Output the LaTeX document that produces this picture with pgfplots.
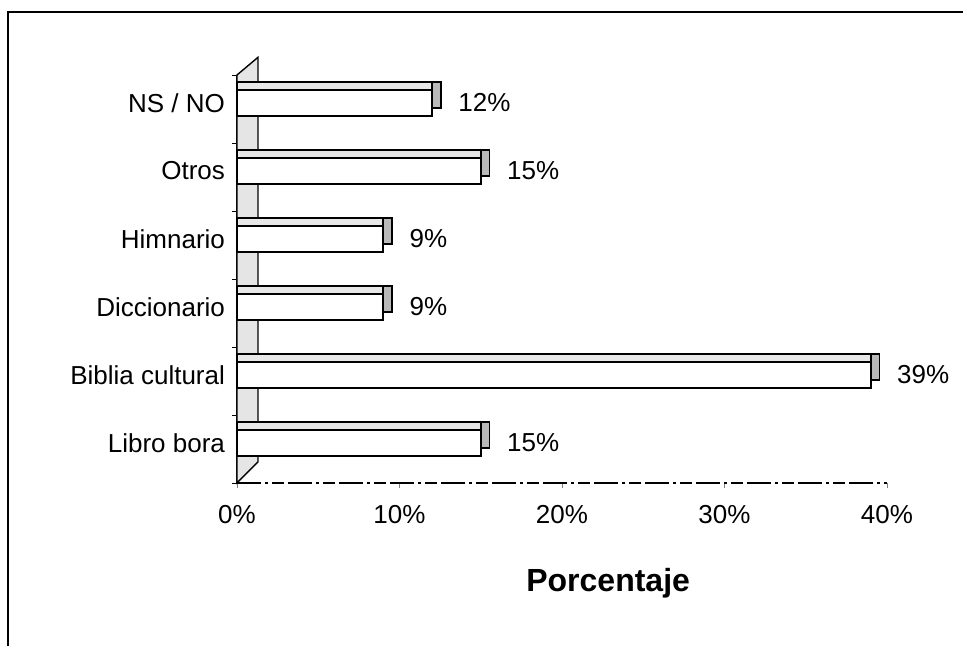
\documentclass[border=0pt]{standalone}
\usepackage{pgfplots}
\pgfplotsset{compat=1.18}
\usepackage{pgfplotstable}
\usepackage{fontspec}
\setmainfont{Liberation Sans}

\pgfplotstableread{
pos value
0 15
1 39
2 9
3 9
4 15
5 12
}\datatable

\begin{document}
\begin{tikzpicture}
\path[use as bounding box] (-118.5pt,-81.5pt) rectangle (363pt,241.5pt);
\draw[line width=1pt] (-114.5pt,-81.5pt) -- (-114.5pt,235.5pt) -- (363pt,235.5pt);
\begin{axis}[
  at={(0,0)}, anchor=south west,
  scale only axis, width=325pt, height=204pt,
  xmin=0, xmax=40, ymin=-0.59, ymax=5.41,
  clip=false,
  axis x line*=bottom, axis y line*=left,
  x axis line style={-, dash pattern=on 12pt off 2pt on 1.5pt off 2pt on 6pt off 2pt, line width=0.6pt},
  y axis line style={-, line width=0.9pt},
  xtick={0,10,20,30,40},
  xticklabel={\pgfmathprintnumber{\tick}\%},
  /pgf/number format/assume math mode=true,
  tick align=outside,
  major tick length=2.5pt,
  ticklabel style={font=\fontsize{13}{15}\selectfont},
  xticklabel style={yshift=-5pt},
  ytick={0,...,5},
  yticklabels={Libro bora,Biblia cultural,Diccionario,Himnario,Otros,NS / NO},
  ytick style={draw=none},
  extra y ticks={-0.59,0.41,1.41,2.41,3.41,4.41,5.41},
  extra y tick labels={},
  extra y tick style={ytick style={draw=black}},
  xlabel={Porcentaje},
  xlabel style={font=\fontsize{16}{18}\selectfont\bfseries, at={(axis description cs:0.571,-0.245)}, anchor=center},
]
\filldraw[fill=gray!20, draw=black, line width=0.7pt] (axis cs:0,-0.59) -- (axis cs:1.29,-0.28) -- (axis cs:1.29,5.67) -- (axis cs:0,5.41) -- cycle;
\addplot[xbar, bar width=13pt, bar shift=4pt, fill=gray!55, draw=black, line width=0.8pt,
  point meta=explicit,
  nodes near coords={\pgfmathprintnumber{\pgfplotspointmeta}\%},
  nodes near coords style={font=\fontsize{13}{15}\selectfont, anchor=west, xshift=5pt, text=black}]
  table[x expr=\thisrow{value}+0.55, y=pos, meta=value] {\datatable};
\addplot[xbar, bar width=13pt, bar shift=4pt, fill=gray!18, draw=black, line width=0.8pt]
  table[x=value, y=pos] {\datatable};
\addplot[xbar, bar width=13pt, bar shift=0pt, fill=white, draw=black, line width=0.9pt]
  table[x=value, y=pos] {\datatable};
\end{axis}
\end{tikzpicture}
\end{document}
